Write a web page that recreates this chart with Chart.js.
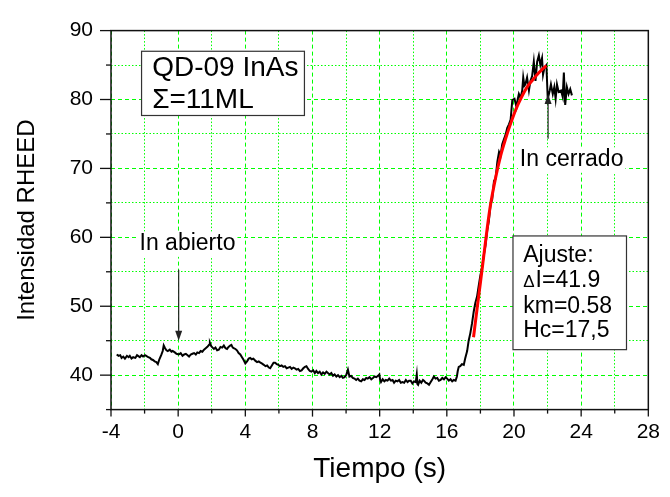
<!DOCTYPE html>
<html>
<head>
<meta charset="utf-8">
<script src="https://cdn.jsdelivr.net/npm/chart.js@4.4.0/dist/chart.umd.min.js"></script>
<style>
  html, body { margin: 0; padding: 0; background: #fff; }
  #wrap { width: 670px; height: 497px; }
</style>
</head>
<body>
<div id="wrap"><canvas id="rheed" width="670" height="497"></canvas></div>
<script>
// RHEED intensity vs time
var tiempo = [
  -3.66, -3.55, -3.45, -3.37, -3.27, -3.17, -3.05, -2.95, -2.88, -2.78, -2.68, -2.55, -2.45, -2.39, -2.28, -2.18,
  -2.09, -1.98, -1.90, -1.78, -1.68, -1.60, -1.50, -1.40, -1.30, -1.21, -1.12, -1.01, -0.92, -0.86, -0.78, -0.70,
  -0.62, -0.50, -0.40, -0.33, -0.20, -0.10, 0.03, 0.15, 0.26, 0.36, 0.46, 0.56, 0.65, 0.75, 0.85, 0.95,
  1.05, 1.14, 1.24, 1.34, 1.44, 1.54, 1.64, 1.74, 1.84, 1.89, 1.97, 2.05, 2.13, 2.22, 2.32, 2.42,
  2.52, 2.62, 2.72, 2.82, 2.91, 3.00, 3.10, 3.17, 3.25, 3.33, 3.41, 3.50, 3.60, 3.70, 3.80, 3.90,
  4.00, 4.10, 4.20, 4.29, 4.38, 4.48, 4.59, 4.70, 4.80, 4.90, 4.98, 5.10, 5.20, 5.30, 5.40, 5.48,
  5.58, 5.68, 5.77, 5.87, 5.97, 6.06, 6.16, 6.26, 6.36, 6.46, 6.56, 6.66, 6.76, 6.86, 6.95, 7.05,
  7.15, 7.25, 7.35, 7.45, 7.55, 7.64, 7.74, 7.84, 7.94, 8.04, 8.14, 8.23, 8.33, 8.43, 8.53, 8.63,
  8.73, 8.83, 8.92, 9.02, 9.12, 9.22, 9.32, 9.42, 9.52, 9.62, 9.72, 9.81, 9.91, 10.01, 10.11, 10.20,
  10.30, 10.40, 10.50, 10.60, 10.70, 10.80, 10.90, 11.00, 11.10, 11.20, 11.29, 11.40, 11.50, 11.60, 11.69, 11.80,
  11.90, 11.98, 12.03, 12.08, 12.18, 12.28, 12.37, 12.47, 12.57, 12.67, 12.77, 12.86, 12.96, 13.06, 13.16, 13.26,
  13.36, 13.46, 13.56, 13.66, 13.75, 13.85, 13.95, 14.05, 14.15, 14.21, 14.25, 14.29, 14.38, 14.48, 14.58, 14.64,
  14.74, 14.84, 14.94, 15.04, 15.14, 15.23, 15.33, 15.43, 15.53, 15.63, 15.73, 15.83, 15.93, 16.02, 16.12, 16.22,
  16.32, 16.42, 16.52, 16.60, 16.65, 16.71, 16.80, 16.90, 17.01, 17.10, 17.21, 17.30, 17.40, 17.50, 17.60, 17.70,
  17.80, 17.90, 18.00, 18.10, 18.20, 18.30, 18.40, 18.50, 18.61, 18.70, 18.81, 18.90, 19.01, 19.11, 19.20, 19.30,
  19.41, 19.50, 19.60, 19.70, 19.80, 19.90, 20.03, 20.15, 20.22, 20.29, 20.39, 20.49, 20.55, 20.62, 20.68, 20.78,
  20.89, 20.98, 21.08, 21.18, 21.28, 21.38, 21.48, 21.57, 21.67, 21.73, 21.81, 21.93, 22.01, 22.13, 22.20, 22.31,
  22.40, 22.48, 22.56, 22.66, 22.80, 22.90, 22.97, 23.05, 23.15, 23.25, 23.35, 23.45
];
var intensidad = [
  43.0, 42.8, 42.9, 42.5, 42.7, 42.4, 42.8, 42.6, 42.8, 42.4, 42.6, 42.5, 42.9, 42.8, 42.6, 42.9,
  42.7, 42.9, 42.8, 42.6, 42.5, 42.3, 42.2, 42.0, 41.9, 41.6, 42.3, 42.9, 43.5, 44.3, 43.9, 43.6,
  43.5, 43.7, 43.4, 43.5, 43.3, 43.1, 43.0, 43.2, 42.8, 43.0, 43.1, 42.9, 42.7, 43.0, 43.1, 43.2,
  43.0, 43.3, 43.2, 43.5, 43.4, 43.7, 43.9, 44.1, 44.4, 44.7, 44.2, 44.0, 43.8, 44.0, 43.6, 43.7,
  44.1, 44.0, 44.3, 43.9, 43.8, 44.1, 44.3, 44.4, 44.0, 43.9, 43.8, 43.6, 43.2, 43.0, 42.6, 42.2,
  41.7, 42.0, 42.4, 42.5, 42.3, 42.4, 42.1, 41.9, 42.0, 41.8, 41.7, 41.5, 41.3, 41.4, 41.1, 41.0,
  41.4, 41.8, 41.8, 41.6, 41.5, 41.3, 41.4, 41.2, 41.3, 41.0, 41.1, 41.2, 40.9, 41.1, 41.0, 40.8,
  40.9, 40.6, 40.7, 41.0, 41.2, 41.3, 40.9, 40.6, 40.5, 40.7, 40.3, 40.6, 40.3, 40.5, 40.1, 40.4,
  40.2, 40.5, 40.3, 40.1, 40.3, 39.9, 40.1, 39.8, 40.0, 39.7, 39.9, 39.6, 39.7, 40.0, 40.8, 39.8,
  39.9, 39.6, 39.5, 39.3, 39.5, 39.2, 39.1, 39.4, 39.3, 39.6, 39.5, 39.7, 39.4, 39.6, 39.8, 39.7,
  39.9, 40.1, 39.3, 39.0, 39.4, 39.1, 39.3, 39.2, 39.5, 39.2, 39.3, 38.9, 39.2, 39.1, 39.3, 38.9,
  39.0, 38.9, 39.3, 39.0, 39.2, 39.2, 38.8, 39.1, 39.0, 40.1, 38.7, 38.6, 39.2, 38.9, 39.3, 39.2,
  38.9, 38.8, 38.6, 39.0, 39.4, 39.8, 39.5, 39.6, 39.2, 39.3, 39.6, 39.4, 39.7, 39.5, 39.2, 39.4,
  39.1, 39.3, 39.2, 39.8, 40.6, 41.2, 41.3, 41.6, 41.5, 42.5, 43.5, 45.0, 46.1, 47.5, 49.2, 50.5,
  51.4, 53.0, 54.5, 55.6, 57.4, 58.8, 60.9, 62.3, 64.9, 65.5, 68.2, 68.5, 71.0, 72.4, 71.9, 73.5,
  74.3, 74.9, 75.9, 76.4, 77.1, 79.9, 80.1, 78.9, 80.0, 80.8, 80.2, 81.3, 83.2, 82.0, 82.2, 83.2,
  81.3, 82.7, 83.4, 85.5, 82.7, 85.5, 86.4, 85.0, 86.0, 83.6, 84.6, 85.0, 80.1, 81.3, 82.2, 80.8,
  81.8, 80.1, 82.2, 81.1, 81.3, 80.4, 83.9, 79.2, 81.8, 80.8, 81.5, 80.6
];

// fitted curve (red)
var ajusteTiempo = [17.59, 17.8, 18.0, 18.2, 18.42, 18.58, 18.91, 19.2, 19.5, 19.8, 20.1, 20.4, 20.78, 21.1, 21.37, 21.65, 21.93];
var ajusteIntensidad = [45.5, 49.6, 53.4, 57.3, 61.6, 64.4, 68.7, 71.8, 74.3, 76.5, 78.5, 80.1, 81.8, 82.8, 83.6, 84.3, 84.9];

// labelled ticks
var xEtiquetas = [-4, 0, 4, 8, 12, 16, 20, 24, 28];
var yEtiquetas = [40, 50, 60, 70, 80, 90];

var FUENTE = '"Liberation Sans", Arial, sans-serif';

function puntos(xs, ys) {
  return xs.map(function(v, i) { return {x: v, y: ys[i]}; });
}

// annotations, positions in data units
var notas = [
  {texto: 'In abierto', x: -2.3, y: 58.1, size: 23},
  {texto: 'In cerrado', x: 20.35, y: 70.3, size: 23}
];
var flechas = [
  {x: 0.03, desde: 55.3, hasta: 45.0},
  {x: 22.03, desde: 74.3, hasta: 80.8}
];
var cajas = [
  {x0: -2.18, x1: 7.52, y0: 87.0, y1: 77.68, tx: -1.55, ty: [83.4, 78.72], size: 28,
   lineas: ['QD-09 InAs', '\u03A3=11ML']},
  {x0: 19.94, x1: 26.70, y0: 60.2, y1: 43.7, tx: 20.55, ty: [56.48, 52.74, 48.99, 45.48], size: 23,
   lineas: ['Ajuste:', '\u0394I=41.9', 'km=0.58', 'Hc=17,5']}
];

function escribe(ctx, texto, px, py, size) {
  // small symbol-font style delta
  if (texto.charAt(0) === '\u0394') {
    ctx.font = Math.round(size * 0.72) + 'px ' + FUENTE;
    ctx.fillText('\u0394', px, py);
    var w = ctx.measureText('\u0394').width;
    ctx.font = size + 'px ' + FUENTE;
    ctx.fillText(texto.slice(1), px + w + 1, py);
  } else {
    ctx.font = size + 'px ' + FUENTE;
    ctx.fillText(texto, px, py);
  }
}

var marcoPlugin = {
  id: 'marco',
  afterDatasetsDraw: function(chart) {
    var ctx = chart.ctx;
    var xs = chart.scales.x, ys = chart.scales.y;
    var a = chart.chartArea;
    ctx.save();

    // frame
    ctx.strokeStyle = '#111';
    ctx.lineWidth = 1.5;
    ctx.strokeRect(a.left, a.top, a.right - a.left, a.bottom - a.top);

    // tick marks (outside)
    ctx.lineWidth = 1.3;
    xs.ticks.forEach(function(t) {
      var px = xs.getPixelForValue(t.value);
      var len = xEtiquetas.indexOf(t.value) >= 0 ? 7 : 4;
      ctx.beginPath(); ctx.moveTo(px, a.bottom); ctx.lineTo(px, a.bottom + len); ctx.stroke();
    });
    ys.ticks.forEach(function(t) {
      var py = ys.getPixelForValue(t.value);
      var len = yEtiquetas.indexOf(t.value) >= 0 ? 11 : 5;
      ctx.beginPath(); ctx.moveTo(a.left, py); ctx.lineTo(a.left - len, py); ctx.stroke();
    });

    // text boxes
    cajas.forEach(function(c) {
      var l = xs.getPixelForValue(c.x0), r = xs.getPixelForValue(c.x1);
      var t = ys.getPixelForValue(c.y0), b = ys.getPixelForValue(c.y1);
      ctx.fillStyle = '#fff';
      ctx.fillRect(l, t, r - l, b - t);
      ctx.strokeStyle = '#333';
      ctx.lineWidth = 1.2;
      ctx.strokeRect(l, t, r - l, b - t);
      ctx.fillStyle = '#000';
      ctx.textBaseline = 'alphabetic';
      ctx.textAlign = 'left';
      c.lineas.forEach(function(s, i) {
        escribe(ctx, s, xs.getPixelForValue(c.tx), ys.getPixelForValue(c.ty[i]), c.size);
      });
    });

    // labels with white background
    notas.forEach(function(n) {
      var px = xs.getPixelForValue(n.x), py = ys.getPixelForValue(n.y);
      ctx.font = n.size + 'px ' + FUENTE;
      var w = ctx.measureText(n.texto).width;
      ctx.fillStyle = '#fff';
      ctx.fillRect(px - 2, py - n.size * 0.82, w + 4, n.size * 1.1);
      ctx.fillStyle = '#000';
      ctx.textBaseline = 'alphabetic';
      ctx.textAlign = 'left';
      ctx.fillText(n.texto, px, py);
    });

    // arrows
    ctx.strokeStyle = '#222';
    ctx.fillStyle = '#222';
    ctx.lineWidth = 1.2;
    flechas.forEach(function(f) {
      var px = xs.getPixelForValue(f.x);
      var p0 = ys.getPixelForValue(f.desde), p1 = ys.getPixelForValue(f.hasta);
      var dir = p1 > p0 ? 1 : -1;
      ctx.beginPath(); ctx.moveTo(px, p0); ctx.lineTo(px, p1 - dir * 8); ctx.stroke();
      ctx.beginPath();
      ctx.moveTo(px, p1);
      ctx.lineTo(px - 3.5, p1 - dir * 10);
      ctx.lineTo(px + 3.5, p1 - dir * 10);
      ctx.closePath();
      ctx.fill();
    });
    ctx.restore();
  }
};

var verde = '#00ff00';

var grafico = new Chart(document.getElementById('rheed'), {
  type: 'line',
  data: {
    datasets: [
      {
        label: 'Ajuste',
        data: puntos(ajusteTiempo, ajusteIntensidad),
        borderColor: '#ff0000',
        borderWidth: 3,
        pointRadius: 0,
        fill: false,
        cubicInterpolationMode: 'monotone',
        order: 0
      },
      {
        label: 'RHEED',
        data: puntos(tiempo, intensidad),
        borderColor: '#000000',
        borderWidth: 2,
        pointRadius: 0,
        fill: false,
        tension: 0,
        order: 1
      }
    ]
  },
  options: {
    responsive: false,
    animation: false,
    layout: { padding: { top: 18, right: 18, left: 0, bottom: 0 } },
    plugins: { legend: { display: false }, tooltip: { enabled: false } },
    scales: {
      x: {
        type: 'linear',
        min: -4, max: 28,
        afterFit: function(s) { s.height = 87.4; },
        ticks: {
          stepSize: 2,
          padding: 10,
          color: '#000',
          font: { family: FUENTE, size: 21 },
          maxRotation: 0,
          autoSkip: false,
          callback: function(v) { return xEtiquetas.indexOf(v) >= 0 ? String(v) : ''; }
        },
        grid: { color: verde, lineWidth: 1, drawTicks: false },
        border: {
          display: false,
          dash: function(c) {
            if (!c.tick) return [];
            return xEtiquetas.indexOf(c.tick.value) >= 0 ? [4, 3] : [1.5, 2];
          }
        },
        title: {
          display: true,
          text: 'Tiempo (s)',
          color: '#000',
          font: { family: FUENTE, size: 28 },
          padding: { top: 0, bottom: 11 }
        }
      },
      y: {
        min: 35, max: 90,
        afterFit: function(s) { s.width = 111; },
        ticks: {
          stepSize: 5,
          padding: 18,
          color: '#000',
          font: { family: FUENTE, size: 21 },
          autoSkip: false,
          callback: function(v) { return yEtiquetas.indexOf(v) >= 0 ? String(v) : ''; }
        },
        grid: { color: verde, lineWidth: 1, drawTicks: false },
        border: {
          display: false,
          dash: function(c) {
            if (!c.tick) return [];
            return yEtiquetas.indexOf(c.tick.value) >= 0 ? [4, 3] : [1.5, 2];
          }
        },
        title: {
          display: true,
          text: 'Intensidad RHEED',
          color: '#000',
          font: { family: FUENTE, size: 24 },
          padding: { top: 13, bottom: 0 }
        }
      }
    }
  },
  plugins: [marcoPlugin]
});
</script>
</body>
</html>
